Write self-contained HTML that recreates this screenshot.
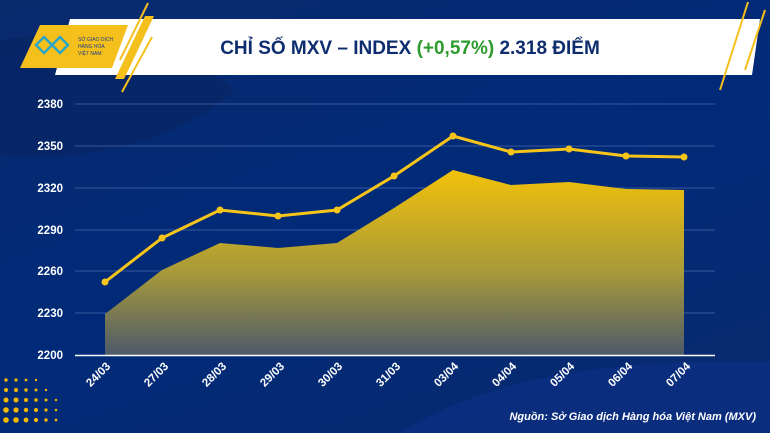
<!DOCTYPE html>
<html><head><meta charset="utf-8"><style>
html,body{margin:0;padding:0;overflow:hidden;width:770px;height:433px}
#c{width:770px;height:433px;position:relative;overflow:hidden;background:linear-gradient(160deg,#0a2a6e 0%,#002a78 50%,#0a2a6e 100%);font-family:"Liberation Sans",sans-serif}
svg{display:block}
</style></head><body><div id="c">
<svg width="770" height="433" viewBox="0 0 770 433" style="position:absolute;left:0;top:0">
<defs>
<linearGradient id="a" x1="0" y1="0" x2="0" y2="1"><stop offset="0" stop-color="#f2c10a"/><stop offset="0.55" stop-color="#a89a3a"/><stop offset="1" stop-color="#4d5a6a"/></linearGradient>
</defs>
<path d="M400 433 Q520 355 770 362 L770 433 Z" fill="#0b2f85" opacity="0.7"/>
<path d="M0 40 Q140 20 235 90 Q150 165 0 155 Z" fill="#072461" opacity="0.6"/>
<g fill="#f5b800">
<circle cx="6" cy="400" r="2.5"/><circle cx="16" cy="400" r="2.5"/><circle cx="26" cy="400" r="2"/><circle cx="36" cy="400" r="1.8"/><circle cx="46" cy="400" r="1.5"/><circle cx="56" cy="400" r="1.2"/>
<circle cx="6" cy="410" r="2.8"/><circle cx="16" cy="410" r="2.6"/><circle cx="26" cy="410" r="2.2"/><circle cx="36" cy="410" r="2"/><circle cx="46" cy="410" r="1.6"/><circle cx="56" cy="410" r="1.3"/>
<circle cx="6" cy="420" r="2.8"/><circle cx="16" cy="420" r="2.8"/><circle cx="26" cy="420" r="2.4"/><circle cx="36" cy="420" r="2.1"/><circle cx="46" cy="420" r="1.7"/><circle cx="56" cy="420" r="1.4"/>
<circle cx="6" cy="390" r="2"/><circle cx="16" cy="390" r="2"/><circle cx="26" cy="390" r="1.7"/><circle cx="36" cy="390" r="1.5"/><circle cx="46" cy="390" r="1.2"/>
<circle cx="6" cy="380" r="1.7"/><circle cx="16" cy="380" r="1.6"/><circle cx="26" cy="380" r="1.4"/><circle cx="36" cy="380" r="1.2"/>
</g>
<polygon points="70,19 760,19 752,75 55,75" fill="#fff"/>
<polygon points="40,25 128,25 112,68 20,68" fill="#f5c01c"/>
<line x1="148" y1="3" x2="120" y2="60" stroke="#f5c01c" stroke-width="2"/>
<polygon points="145,16 154,16 124,79 115,79" fill="#f5c01c"/>
<line x1="152" y1="37" x2="122" y2="92" stroke="#f5c01c" stroke-width="2"/>
<line x1="748" y1="2" x2="720" y2="90" stroke="#f5c01c" stroke-width="2"/>
<line x1="765" y1="10" x2="745" y2="70" stroke="#f5c01c" stroke-width="2"/>
<path d="M36 45 l8 -8 l8 8 l8 -8 l8 8 l-8 8 l-8 -8 l-8 8z" fill="none" stroke="#2aa6c8" stroke-width="2.5"/>
<text x="78" y="41" font-size="5" fill="#1a3d8a">SỞ GIAO DỊCH</text>
<text x="78" y="48" font-size="5" fill="#1a3d8a">HÀNG HÓA</text>
<text x="78" y="55" font-size="5" fill="#1a3d8a">VIỆT NAM</text>
<text x="410" y="54" font-size="19" font-weight="bold" text-anchor="middle" fill="#0d2d6e">CHỈ SỐ MXV – INDEX <tspan fill="#2e9b2e">(+0,57%)</tspan> 2.318 ĐIỂM</text>
<g stroke="#5a78b8" stroke-width="0.8" opacity="0.8">
<line x1="75" y1="104" x2="715" y2="104"/><line x1="75" y1="146" x2="715" y2="146"/><line x1="75" y1="188" x2="715" y2="188"/><line x1="75" y1="230" x2="715" y2="230"/><line x1="75" y1="271" x2="715" y2="271"/><line x1="75" y1="313" x2="715" y2="313"/>
</g>
<g font-size="11.5" font-weight="bold" fill="#fff" text-anchor="end">
<text x="63" y="108">2380</text><text x="63" y="150">2350</text><text x="63" y="192">2320</text><text x="63" y="234">2290</text><text x="63" y="275">2260</text><text x="63" y="317">2230</text><text x="63" y="359">2200</text>
</g>
<polygon points="105,314 162,270 220,243 278,248 337,243 394,208 453,170 511,185 569,182 626,189 684,190 684,355 105,355" fill="url(#a)"/>
<line x1="75" y1="355.5" x2="715" y2="355.5" stroke="#fff" stroke-width="1.5"/>
<polyline points="105,282 162,238 220,210 278,216 337,210 394,176 453,136 511,152 569,149 626,156 684,157" fill="none" stroke="#f7c51a" stroke-width="3"/>
<g fill="#f7c51a">
<circle cx="105" cy="282" r="3.5"/><circle cx="162" cy="238" r="3.5"/><circle cx="220" cy="210" r="3.5"/><circle cx="278" cy="216" r="3.5"/><circle cx="337" cy="210" r="3.5"/><circle cx="394" cy="176" r="3.5"/><circle cx="453" cy="136" r="3.5"/><circle cx="511" cy="152" r="3.5"/><circle cx="569" cy="149" r="3.5"/><circle cx="626" cy="156" r="3.5"/><circle cx="684" cy="157" r="3.5"/>
</g>
<g font-size="11.5" font-weight="bold" fill="#fff" text-anchor="end">
<text transform="translate(111,367) rotate(-45)">24/03</text>
<text transform="translate(169,367) rotate(-45)">27/03</text>
<text transform="translate(227,367) rotate(-45)">28/03</text>
<text transform="translate(285,367) rotate(-45)">29/03</text>
<text transform="translate(343,367) rotate(-45)">30/03</text>
<text transform="translate(401,367) rotate(-45)">31/03</text>
<text transform="translate(459,367) rotate(-45)">03/04</text>
<text transform="translate(517,367) rotate(-45)">04/04</text>
<text transform="translate(575,367) rotate(-45)">05/04</text>
<text transform="translate(633,367) rotate(-45)">06/04</text>
<text transform="translate(691,367) rotate(-45)">07/04</text>
</g>
<text x="756" y="420" font-size="11" font-weight="bold" font-style="italic" fill="#fff" text-anchor="end">Nguồn: Sở Giao dịch Hàng hóa Việt Nam (MXV)</text>
</svg>
</div></body></html>
